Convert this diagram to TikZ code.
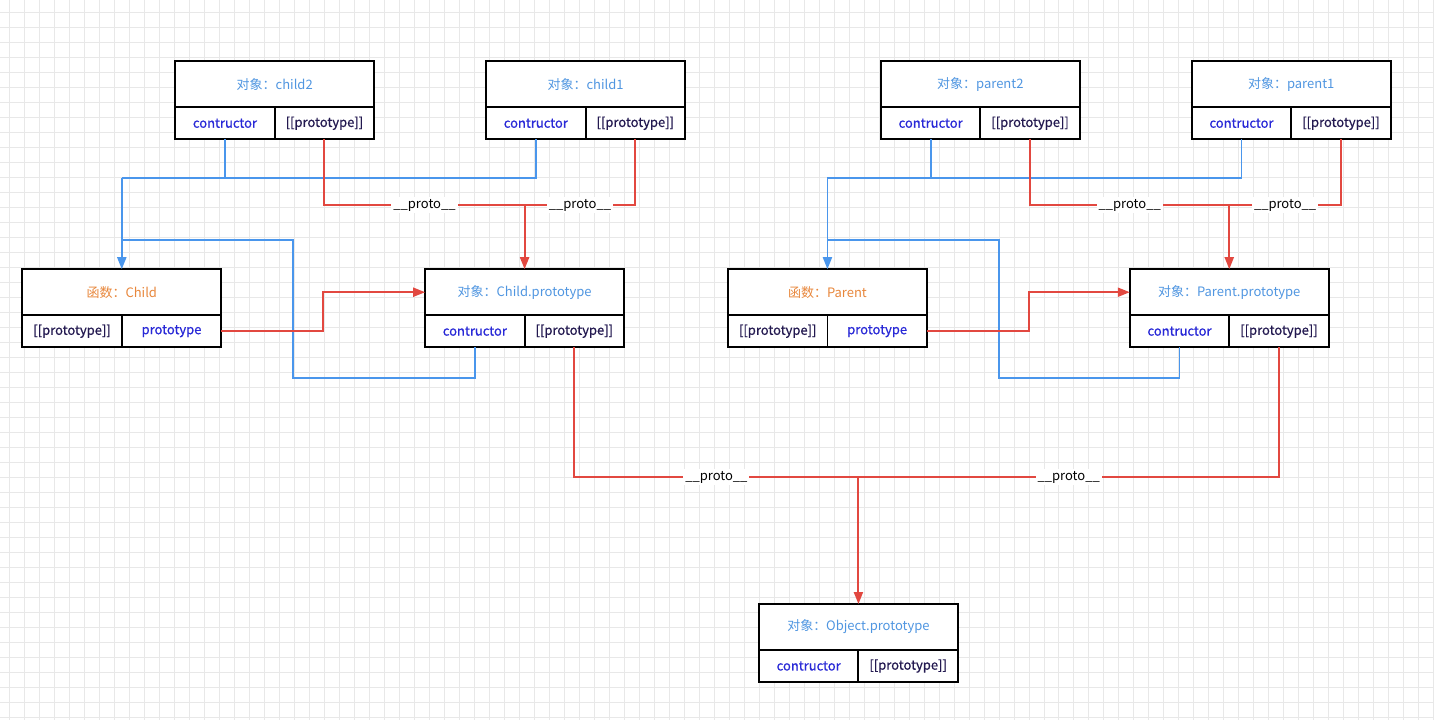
\documentclass[tikz,border=0pt]{standalone}
\usepackage{fontspec}
\setmainfont{Noto Sans CJK SC}
\newfontfamily\fieldfont{Noto Sans CJK SC}[FakeBold=0.6]
\usetikzlibrary{arrows.meta,positioning}
\definecolor{LinkBlue}{RGB}{74,150,236}
\definecolor{LinkRed}{RGB}{226,72,64}
\definecolor{TitleBlue}{RGB}{80,150,225}
\definecolor{TitleOrange}{RGB}{232,135,60}
\definecolor{FieldBlue}{RGB}{40,40,215}
\definecolor{FieldDark}{RGB}{35,25,80}
\definecolor{GridGray}{RGB}{232,232,232}

\begin{document}
\begin{tikzpicture}[
    x=1pt, y=-1pt,
    every node/.style={font=\fontsize{13}{15}\selectfont},
    title/.style={rectangle, draw, fill=white, line width=1.9pt, outer sep=0pt, inner sep=0pt, minimum width=199pt, minimum height=46pt, anchor=north west, text=#1},
    title/.default=TitleBlue,
    field/.style={rectangle, draw, fill=white, line width=1.9pt, outer sep=0pt, inner sep=0pt, minimum width=99.5pt, minimum height=32pt, anchor=north west, font=\fontsize{13}{15}\fieldfont, text=#1},
    field/.default=FieldBlue,
    proto/.style={fill=white, inner sep=2pt, text=black},
    redline/.style={line width=1.9pt, draw=LinkRed},
    blueline/.style={line width=1.9pt, draw=LinkBlue},
    redarrow/.style={redline, -{Triangle[length=12pt, width=9pt]}},
    bluearrow/.style={blueline, -{Triangle[length=12pt, width=9pt]}}
]
    % background grid
    \fill[white] (0,0) rectangle (1434,720);
    \foreach \gx in {9,24,...,1434} \draw[GridGray, line width=0.7pt] (\gx,0) -- (\gx,720);
    \foreach \gy in {12,27,...,720} \draw[GridGray, line width=0.7pt] (0,\gy) -- (1434,\gy);
    \useasboundingbox (0,0) rectangle (1434,720);

    % Child side
    \node[title] (c2) at (175,61) {对象：child2};
    \node[field] (c2c) at (c2.south west) {contructor};
    \node[field=FieldDark] (c2s) at (c2c.north east) {[[prototype]]};
    \node[title] (c1) at (486,61) {对象：child1};
    \node[field] (c1c) at (c1.south west) {contructor};
    \node[field=FieldDark] (c1s) at (c1c.north east) {[[prototype]]};
    \node[title=TitleOrange] (ch) at (22,269) {函数：Child};
    \node[field=FieldDark] (chs) at (ch.south west) {[[prototype]]};
    \node[field] (chp) at (chs.north east) {prototype};
    \node[title] (cp) at (425,269) {对象：Child.prototype};
    \node[field] (cpc) at (cp.south west) {contructor};
    \node[field=FieldDark] (cps) at (cpc.north east) {[[prototype]]};

    % Parent side
    \node[title] (p2) at (881,61) {对象：parent2};
    \node[field] (p2c) at (p2.south west) {contructor};
    \node[field=FieldDark] (p2s) at (p2c.north east) {[[prototype]]};
    \node[title] (p1) at (1192,61) {对象：parent1};
    \node[field] (p1c) at (p1.south west) {contructor};
    \node[field=FieldDark] (p1s) at (p1c.north east) {[[prototype]]};
    \node[title=TitleOrange] (pa) at (728,269) {函数：Parent};
    \node[field=FieldDark] (pas) at (pa.south west) {[[prototype]]};
    \node[field] (pap) at (pas.north east) {prototype};
    \node[title] (pp) at (1130,269) {对象：Parent.prototype};
    \node[field] (ppc) at (pp.south west) {contructor};
    \node[field=FieldDark] (pps) at (ppc.north east) {[[prototype]]};

    % Object.prototype
    \node[title] (ob) at (759,604) {对象：Object.prototype};
    \node[field] (obc) at (ob.south west) {contructor};
    \node[field=FieldDark] (obs) at (obc.north east) {[[prototype]]};

    % junctions
    \coordinate (jcb) at (ch.north |- 0,178);
    \coordinate (jcb2) at (ch.north |- 0,240);
    \coordinate (jcr) at (cp.north |- 0,205);
    \coordinate (jpb) at (pa.north |- 0,178);
    \coordinate (jpb2) at (pa.north |- 0,240);
    \coordinate (jpr) at (pp.north |- 0,205);
    \coordinate (jo) at (ob.north |- 0,477);

    % constructor links
    \draw[blueline] (c2c.south) |- (jcb);
    \draw[blueline] (c1c.south) |- (jcb);
    \draw[bluearrow] (jcb) -- (ch.north);
    \draw[blueline] (cpc.south) |- (293,378) |- (jcb2);
    \draw[blueline] (p2c.south) |- (jpb);
    \draw[blueline] (p1c.south) |- (jpb);
    \draw[bluearrow] (jpb) -- (pa.north);
    \draw[blueline] (ppc.south) |- (999,378) |- (jpb2);

    % prototype links
    \draw[redarrow] (chp.east) -- ++(102,0) |- (cp.west);
    \draw[redarrow] (pap.east) -- ++(102,0) |- (pp.west);

    % __proto__ links
    \draw[redline] (c2s.south) |- node[proto, pos=0.75] {\_\_proto\_\_} (jcr);
    \draw[redline] (c1s.south) |- node[proto, pos=0.75] {\_\_proto\_\_} (jcr);
    \draw[redarrow] (jcr) -- (cp.north);
    \draw[redline] (p2s.south) |- node[proto, pos=0.75] {\_\_proto\_\_} (jpr);
    \draw[redline] (p1s.south) |- node[proto, pos=0.75] {\_\_proto\_\_} (jpr);
    \draw[redarrow] (jpr) -- (pp.north);
    \draw[redline] (cps.south) |- node[proto, pos=0.75] {\_\_proto\_\_} (jo);
    \draw[redline] (pps.south) |- node[proto, pos=0.75] {\_\_proto\_\_} (jo);
    \draw[redarrow] (jo) -- (ob.north);
\end{tikzpicture}
\end{document}
